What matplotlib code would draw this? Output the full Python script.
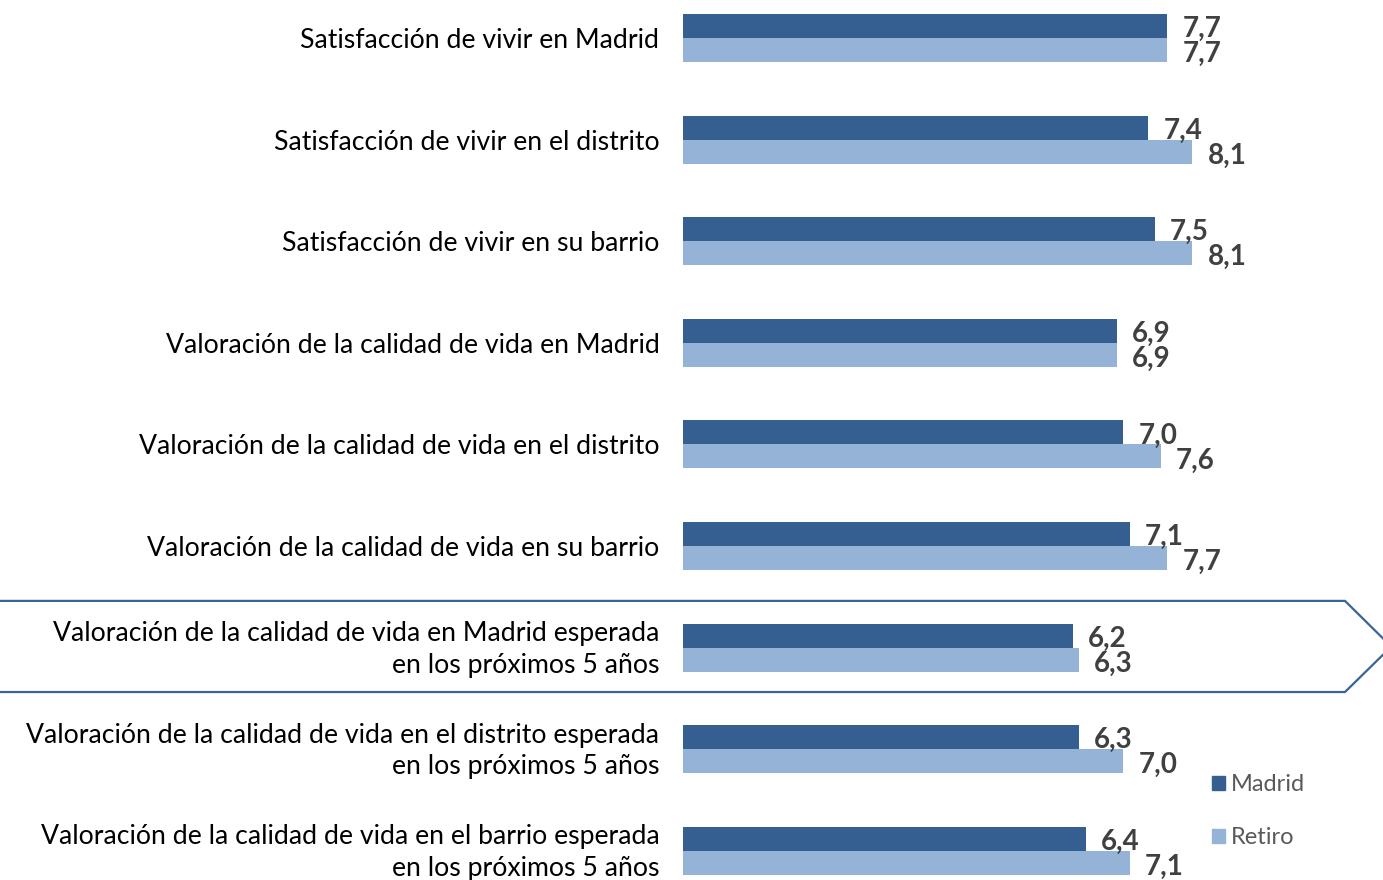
import matplotlib
matplotlib.use('Agg')
import matplotlib.pyplot as plt
from matplotlib.patches import Patch, Polygon
from matplotlib.transforms import blended_transform_factory, ScaledTranslation

plt.rcParams['font.family'] = ['Lato', 'DejaVu Sans']

categories = [
    'Satisfacción de vivir en Madrid',
    'Satisfacción de vivir en el distrito',
    'Satisfacción de vivir en su barrio',
    'Valoración de la calidad de vida en Madrid',
    'Valoración de la calidad de vida en el distrito',
    'Valoración de la calidad de vida en su barrio',
    'Valoración de la calidad de vida en Madrid esperada\nen los próximos 5 años',
    'Valoración de la calidad de vida en el distrito esperada\nen los próximos 5 años',
    'Valoración de la calidad de vida en el barrio esperada\nen los próximos 5 años',
]
madrid = [7.7, 7.4, 7.5, 6.9, 7.0, 7.1, 6.2, 6.3, 6.4]
retiro = [7.7, 8.1, 8.1, 6.9, 7.6, 7.7, 6.3, 7.0, 7.1]
series_names = ['Madrid', 'Retiro']
highlight = 6

c_madrid = '#365F91'
c_retiro = '#95B3D7'

fig = plt.figure(figsize=(13.83, 8.80), dpi=100)
ax = fig.add_axes([683 / 1383, 0, 700 / 1383, 1])

h = 0.236
ypos = list(range(len(categories)))
ax.barh([y - h / 2 for y in ypos], madrid, height=h, color=c_madrid)
ax.barh([y + h / 2 for y in ypos], retiro, height=h, color=c_retiro)

for y, m, r in zip(ypos, madrid, retiro):
    ax.annotate(f'{m:.1f}'.replace('.', ','), (m, y - h / 2 + 0.03), xytext=(15, 0),
                textcoords='offset pixels', va='center', ha='left',
                fontsize=20, fontweight='bold', color='#404040')
    ax.annotate(f'{r:.1f}'.replace('.', ','), (r, y + h / 2 + 0.04), xytext=(15, 0),
                textcoords='offset pixels', va='center', ha='left',
                fontsize=20, fontweight='bold', color='#404040')

ax.set_xlim(0, 11.13)
ax.set_ylim(8.287, -0.374)
ax.set_yticks(ypos)
ax.set_yticklabels(categories, fontsize=19.2, color='#000000', linespacing=1.32)
ax.tick_params(axis='y', length=0, pad=17)
ax.set_xticks([])
for s in ['top', 'right', 'bottom', 'left']:
    ax.spines[s].set_visible(False)

# two-line labels sit a little higher in the original
for lbl in ax.get_yticklabels():
    if '\n' in lbl.get_text():
        lbl.set_transform(lbl.get_transform() + ScaledTranslation(0, 4 / 100, fig.dpi_scale_trans))

# highlight frame around the expected-quality row
tr = blended_transform_factory(fig.transFigure, ax.transData)
top, bot = highlight - 0.46, highlight + 0.437
frame = Polygon([(-0.01, top), (1345 / 1383, top), (1.006, highlight - 0.01),
                 (1345 / 1383, bot), (-0.01, bot)], closed=True, fill=False,
                edgecolor='#3A6396', linewidth=1.6, transform=tr, clip_on=False)
fig.patches.append(frame)

handles = [Patch(color=c_madrid), Patch(color=c_retiro)]
leg = fig.legend(handles, series_names, loc='upper left', bbox_to_anchor=(1191 / 1383, 1 - 753 / 880),
                 frameon=False, fontsize=17, handlelength=0.55, handleheight=0.55,
                 handletextpad=0.25, labelspacing=1.35, labelcolor='#595959')

fig.savefig('out.png', dpi=100)
